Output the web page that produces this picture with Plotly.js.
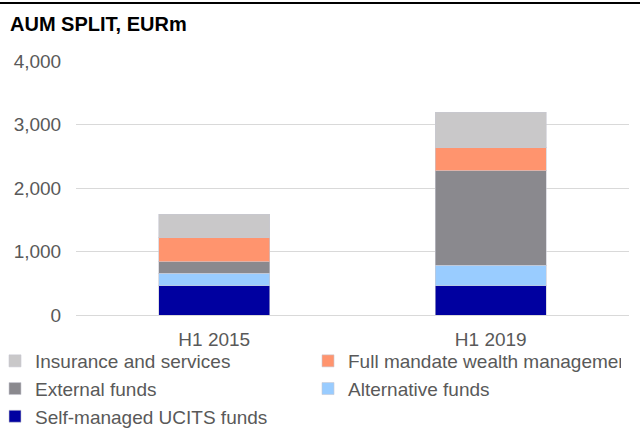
<!DOCTYPE html>
<html>
<head>
<meta charset="utf-8">
<script src="https://cdn.plot.ly/plotly-3.0.1.min.js"></script>
<style>
  html, body { margin: 0; padding: 0; background: #fff; }
  #chart { width: 640px; height: 428px; }
</style>
</head>
<body>
<div id="chart"></div>
<script>
const categories = ["H1 2015", "H1 2019"];
const seriesNames = ["Self-managed UCITS funds", "Alternative funds", "External funds", "Full mandate wealth management", "Insurance and services"];
const selfManaged = [457, 457];
const alternative = [200, 330];
const external = [183, 1485];
const fullMandate = [377, 363];
const insurance = [369, 557];
const colors = ["#0000a0", "#99ccff", "#8a898e", "#ff946e", "#c9c8c9"];
const seriesValues = [selfManaged, alternative, external, fullMandate, insurance];

const traces = seriesNames.map((name, i) => ({
  type: "bar",
  name: name,
  x: categories,
  y: seriesValues[i],
  marker: { color: colors[i], line: { color: "rgba(200,200,210,0.6)", width: 1 } },
  hoverinfo: "x+y+name"
}));

const gray = "#595959";
const font = "Liberation Sans, Arial, sans-serif";

const layout = {
  width: 640,
  height: 428,
  margin: { l: 76, r: 11, t: 61, b: 113, autoexpand: false },
  paper_bgcolor: "#fff",
  plot_bgcolor: "#fff",
  barmode: "stack",
  bargap: 0.6,
  showlegend: true,
  font: { family: font, size: 19, color: gray },
  title: {
    text: "<b>AUM SPLIT, EURm</b>",
    font: { family: font, size: 20, color: "#000" },
    x: 10 / 640, xref: "container", xanchor: "left",
    y: 1 - 24 / 428, yref: "container", yanchor: "middle"
  },
  xaxis: {
    type: "category",
    showgrid: false,
    showline: false,
    zeroline: false,
    ticks: "outside",
    ticklen: 7,
    tickcolor: "rgba(0,0,0,0)",
    tickfont: { family: font, size: 19, color: gray },
    fixedrange: true
  },
  yaxis: {
    range: [0, 4000],
    tickvals: [0, 1000, 2000, 3000, 4000],
    ticktext: ["0", "1,000", "2,000", "3,000", "4,000"],
    showgrid: true,
    gridcolor: "#d9d9d9",
    gridwidth: 1,
    zeroline: true,
    zerolinecolor: "#d9d9d9",
    zerolinewidth: 1,
    showline: false,
    ticks: "outside",
    ticklen: 10,
    tickcolor: "rgba(0,0,0,0)",
    tickfont: { family: font, size: 19, color: gray },
    fixedrange: true
  },
  legend: {
    orientation: "h",
    traceorder: "reversed",
    x: -81 / 553,
    xanchor: "left",
    y: -(342 - 315) / 254,
    yanchor: "top",
    entrywidth: 268,
    entrywidthmode: "pixels",
    font: { family: font, size: 19, color: gray },
    bgcolor: "rgba(0,0,0,0)",
    itemclick: false,
    itemdoubleclick: false
  },
  shapes: [{
    type: "line",
    xref: "paper", yref: "paper",
    x0: -76 / 553, x1: 1 + 11 / 553,
    y0: 1 + (61 - 3) / 254, y1: 1 + (61 - 3) / 254,
    line: { color: "#000", width: 2 }
  }]
};

Plotly.newPlot("chart", traces, layout, { displayModeBar: false, staticPlot: true });
</script>
</body>
</html>
